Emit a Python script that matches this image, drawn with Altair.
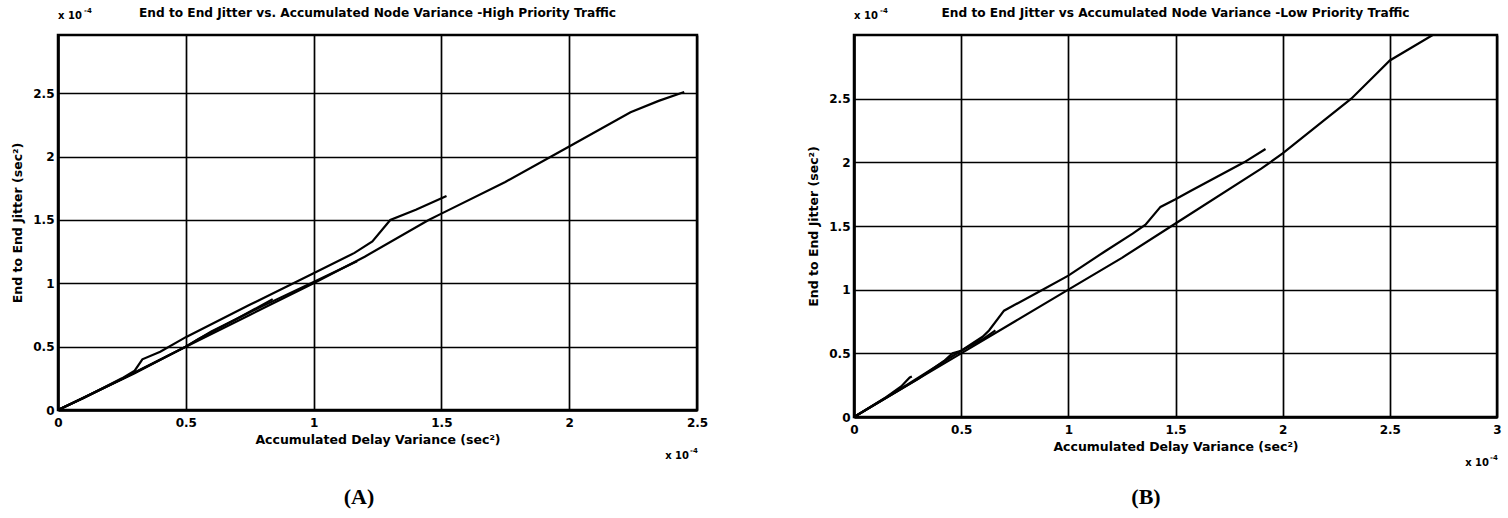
import altair as alt
import pandas as pd

FONT = "DejaVu Sans"

# ---- Panel A: high priority traffic (both axes in units of 1e-4 sec^2) ----
a1_x = [0, 0.10, 0.25, 0.50, 0.75, 1.00, 1.20, 1.45, 1.50, 1.75, 2.00, 2.24, 2.35, 2.45]
a1_y = [0, 0.095, 0.245, 0.50, 0.75, 1.00, 1.21, 1.50, 1.55, 1.80, 2.08, 2.35, 2.44, 2.51]
a2_x = [0, 0.10, 0.25, 0.30, 0.33, 0.40, 0.50, 0.75, 1.00, 1.16, 1.23, 1.30, 1.40, 1.52]
a2_y = [0, 0.095, 0.25, 0.31, 0.40, 0.46, 0.575, 0.83, 1.08, 1.24, 1.33, 1.50, 1.58, 1.69]
a3_x = [0, 0.25, 0.50, 0.55, 0.70, 0.84]
a3_y = [0, 0.245, 0.50, 0.56, 0.72, 0.875]
a4_x = [0, 0.30, 0.50, 0.60, 0.80, 1.00, 1.17]
a4_y = [0, 0.29, 0.50, 0.62, 0.82, 1.01, 1.175]

# ---- Panel B: low priority traffic ----
b1_x = [0, 0.25, 0.50, 0.75, 1.00, 1.25, 1.50, 1.90, 2.00, 2.20, 2.32, 2.44, 2.50, 2.60, 2.70]
b1_y = [0, 0.25, 0.50, 0.75, 1.00, 1.25, 1.52, 1.95, 2.07, 2.34, 2.50, 2.70, 2.80, 2.90, 3.00]
b2_x = [0, 0.25, 0.50, 0.60, 0.63, 0.70, 0.88, 1.00, 1.17, 1.30, 1.36, 1.43, 1.50, 1.57, 1.82, 1.92]
b2_y = [0, 0.255, 0.52, 0.63, 0.68, 0.835, 1.00, 1.11, 1.30, 1.44, 1.51, 1.65, 1.71, 1.775, 2.00, 2.105]
b3_x = [0, 0.15, 0.22, 0.26, 0.27]
b3_y = [0, 0.155, 0.24, 0.31, 0.318]
b4_x = [0, 0.30, 0.42, 0.46, 0.50, 0.60, 0.66]
b4_y = [0, 0.30, 0.44, 0.50, 0.52, 0.61, 0.68]

ticks_a_x = [0, 0.5, 1, 1.5, 2, 2.5]
ticks_b_x = [0, 0.5, 1, 1.5, 2, 2.5, 3]
ticks_y = [0, 0.5, 1, 1.5, 2, 2.5]

title_a = "End to End Jitter vs. Accumulated Node Variance -High Priority Traffic"
title_b = "End to End Jitter vs  Accumulated Node Variance -Low Priority Traffic"
x_title = "Accumulated Delay Variance (sec²)"
y_title = "End to End Jitter (sec²)"
exp_base = "x 10"
exp_power = "-4"


def curves(prefix, xs_list, ys_list):
    rows = []
    for k, (xs, ys) in enumerate(zip(xs_list, ys_list)):
        for i, (xv, yv) in enumerate(zip(xs, ys)):
            rows.append({"curve": f"{prefix}{k + 1}", "step": i, "x": xv, "y": yv})
    return pd.DataFrame(rows)


def label(text, x, y, size=10, align="left", font=FONT):
    return alt.Chart(pd.DataFrame({"t": [text]})).mark_text(
        font=font, fontSize=size, fontWeight="bold", color="black",
        align=align, baseline="middle",
    ).encode(x=alt.value(x), y=alt.value(y), text="t:N")


def panel(df, x_max, y_max, x_ticks, w, h, title, letter, letter_x):
    x = alt.X(
        "x:Q",
        scale=alt.Scale(domain=[0, x_max], nice=False, zero=False),
        axis=alt.Axis(values=x_ticks, title=x_title,
                      labelExpr="format(datum.value, '~g')"),
    )
    y = alt.Y(
        "y:Q",
        scale=alt.Scale(domain=[0, y_max], nice=False, zero=False),
        axis=alt.Axis(values=ticks_y, title=y_title,
                      labelExpr="format(datum.value, '~g')"),
    )
    lines = alt.Chart(df).mark_line(
        color="black", strokeWidth=2.2, clip=True
    ).encode(x=x, y=y, detail="curve:N", order="step:Q")
    layers = [
        lines,
        label(title, w / 2, -22, size=12.2, align="center"),
        label(exp_base, 0, -19),
        label(exp_power, 26, -24, size=7),
        label(exp_base, w - 8, h + 46, align="right"),
        label(exp_power, w - 7, h + 41, size=7),
        label(letter, letter_x, 462, size=22, align="center",
              font="Liberation Serif"),
    ]
    return alt.layer(*layers).properties(width=w, height=h)


df_a = curves("A", [a1_x, a2_x, a3_x, a4_x], [a1_y, a2_y, a3_y, a4_y])
df_b = curves("B", [b1_x, b2_x, b3_x, b4_x], [b1_y, b2_y, b3_y, b4_y])

panel_a = panel(df_a, 2.5, 2.96, ticks_a_x, 639, 375, title_a, "(A)", 301)
panel_b = panel(df_b, 3.0, 3.0, ticks_b_x, 643, 382, title_b, "(B)", 292)

chart = (
    alt.hconcat(panel_a, panel_b, spacing=97)
    .properties(padding={"left": 10, "top": 5, "right": 0, "bottom": 0},
                background="white")
    .configure_view(stroke="black", strokeWidth=2.5)
    .configure_axis(
        grid=True, gridColor="black", gridWidth=1.7, gridOpacity=1,
        domain=True, domainColor="black", domainWidth=2.5,
        ticks=False, labelFlush=False, labelOverlap=False,
        labelFont=FONT, labelFontSize=12, labelFontWeight="bold", labelColor="black",
        titleFont=FONT, titleFontSize=12.5, titleFontWeight="bold", titleColor="black",
    )
    .configure_axisX(labelPadding=7, titlePadding=5)
    .configure_axisY(labelPadding=4, titlePadding=8)
)

chart.save("out.html", embed_options={"renderer": "svg", "actions": False})
